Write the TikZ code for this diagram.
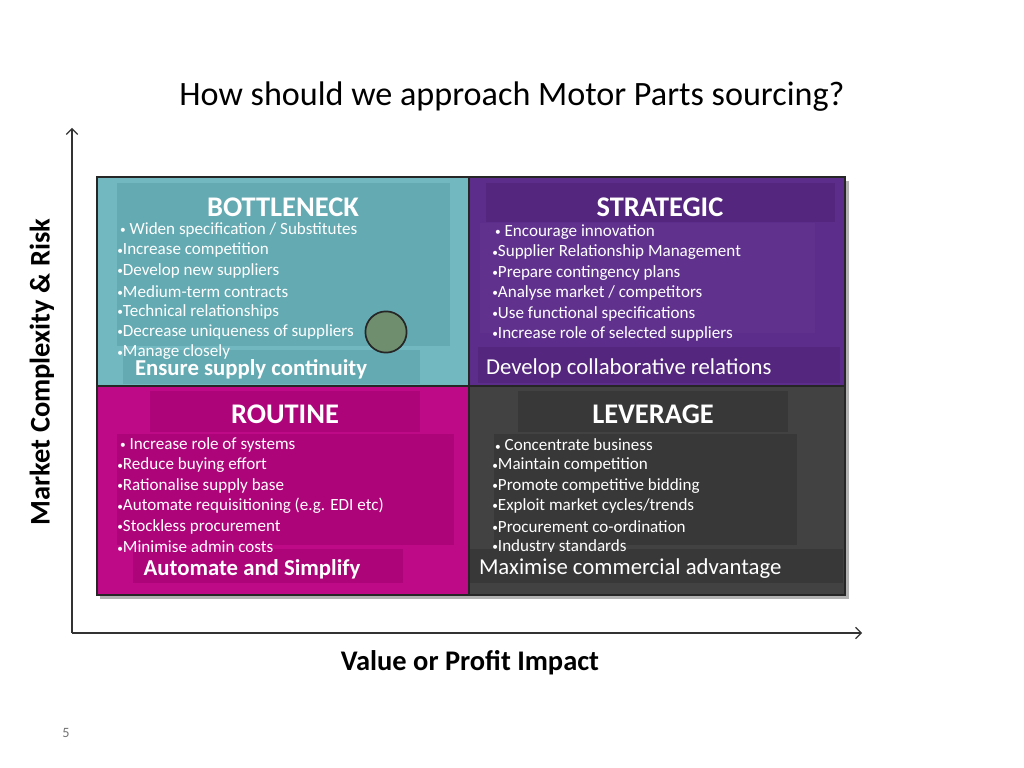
\documentclass[tikz,border=0pt]{standalone}
\usepackage{fontspec}
\setmainfont{Carlito}
\usepackage{tikz}
\usetikzlibrary{arrows.meta}
\definecolor{tealbase}{RGB}{114,184,192}
\definecolor{tealover}{RGB}{100,170,178}
\definecolor{purplebase}{RGB}{92,45,138}
\definecolor{purpleover}{RGB}{84,38,126}
\definecolor{purplelist}{RGB}{96,50,142}
\definecolor{magentabase}{RGB}{190,10,135}
\definecolor{magentaover}{RGB}{174,4,121}
\definecolor{greybase}{RGB}{66,66,66}
\definecolor{greyover}{RGB}{56,56,56}
\definecolor{sage}{RGB}{110,142,110}
\newcommand{\bul}{\raisebox{0.6pt}{\fontsize{8}{8}\selectfont•}}

\begin{document}
\begin{tikzpicture}[x=0.703125pt, y=-0.703125pt,
        quad/.style={draw=black!85, line width=0.8pt},
        head/.style={text=white, font=\fontsize{20}{24}\selectfont\bfseries},
        item/.style={text=white, anchor=west, inner sep=0pt, font=\fontsize{12}{14}\selectfont},
        motto/.style={text=white, font=\fontsize{16}{19}\selectfont},
        axis/.style={draw=black!80, line width=0.8pt, -{Straight Barb[length=4pt, width=8pt]}}]
        \useasboundingbox[fill=white] (0,0) rectangle (1024,768);
        \node[font=\fontsize{24}{29}\selectfont] (title) at (512,97) {How should we approach Motor Parts sourcing?};
        \coordinate (origin) at (72,633);
        \coordinate (ytop) at (72,128);
        \coordinate (xend) at (862,633);
        \draw[axis] (origin) -- (ytop);
        \draw[axis] (origin) -- (xend);
        \node[rotate=90, font=\fontsize{20}{24}\selectfont\bfseries] (ylab) at (42,372) {Market Complexity \& Risk};
        \node[font=\fontsize{20}{24}\selectfont\bfseries] (xlab) at (470,663) {Value or Profit Impact};
        \node[text=black!55, font=\fontsize{10}{12}\selectfont] (page) at (66,733) {5};
        \fill[black, opacity=0.3] (100,181) rectangle (849,599);
        \path[quad, fill=tealbase] (97,177) rectangle (469,386);
        \path[quad, fill=purplebase] (469,177) rectangle (845,386);
        \path[quad, fill=magentabase] (97,386) rectangle (469,595);
        \path[quad, fill=greybase] (469,386) rectangle (845,595);
        \fill[tealover] (117,183) rectangle (450,346);
        \fill[tealover] (123,350) rectangle (420,384);
        \fill[purpleover] (486,183) rectangle (835,222);
        \fill[purplelist] (480,223) rectangle (815,333);
        \fill[purpleover] (478,347) rectangle (840,383);
        \fill[magentaover] (150,391) rectangle (420,432);
        \fill[magentaover] (117,434) rectangle (454,545);
        \fill[magentaover] (133,549) rectangle (403,583);
        \fill[greyover] (518,391) rectangle (788,432);
        \fill[greyover] (494,434) rectangle (797,545);
        \fill[greyover] (470,549) rectangle (843,583);
        \node[head] (bottleneck) at (283,207) {BOTTLENECK};
        \node[head] (strategic) at (660,207) {STRATEGIC};
        \node[head] (routine) at (285,414) {ROUTINE};
        \node[head] (leverage) at (653,414) {LEVERAGE};
        \foreach \t [count=\k] in {{\,\bul\ Widen specification / Substitutes}, {\bul Increase competition},
                {\bul Develop new suppliers}, {\bul Medium-term contracts}, {\bul Technical relationships},
                {\bul Decrease uniqueness of suppliers}, {\bul Manage closely}}
            \node[item] (bn\k) at (117,{230+20.4*(\k-1)}) {\t};
        \foreach \t [count=\k] in {{\,\bul\ Encourage innovation}, {\bul Supplier Relationship Management},
                {\bul Prepare contingency plans}, {\bul Analyse market / competitors},
                {\bul Use functional specifications}, {\bul Increase role of selected suppliers}}
            \node[item] (st\k) at (492,{232+20.4*(\k-1)}) {\t};
        \begin{scope}
            \clip (100,436) rectangle (840,551);
            \foreach \t [count=\k] in {{\,\bul\ Increase role of systems}, {\bul Reduce buying effort},
                    {\bul Rationalise supply base}, {\bul Automate requisitioning (e.g. EDI etc)},
                    {\bul Stockless procurement}, {\bul Minimise admin costs}}
                \node[item] (rt\k) at (117,{445+20.4*(\k-1)}) {\t};
            \foreach \t [count=\k] in {{\,\bul\ Concentrate business}, {\bul Maintain competition},
                    {\bul Promote competitive bidding}, {\bul Exploit market cycles/trends},
                    {\bul Procurement co-ordination}, {\bul Industry standards}}
                \node[item] (lv\k) at (492,{445+20.4*(\k-1)}) {\t};
        \end{scope}
        \node[circle, draw=black!85, line width=1.2pt, fill=sage, minimum size=29pt] (dot) at (386,332) {};
        \node[motto, font=\fontsize{16}{19}\selectfont\bfseries] (continuity) at (251,369) {Ensure supply continuity};
        \node[motto, anchor=west] (collab) at (481,368) {Develop collaborative relations};
        \node[motto, font=\fontsize{16}{19}\selectfont\bfseries] (simplify) at (252,569) {Automate and Simplify};
        \node[motto, anchor=west] (advantage) at (474,569) {Maximise commercial advantage};
    \end{tikzpicture}
\end{document}
